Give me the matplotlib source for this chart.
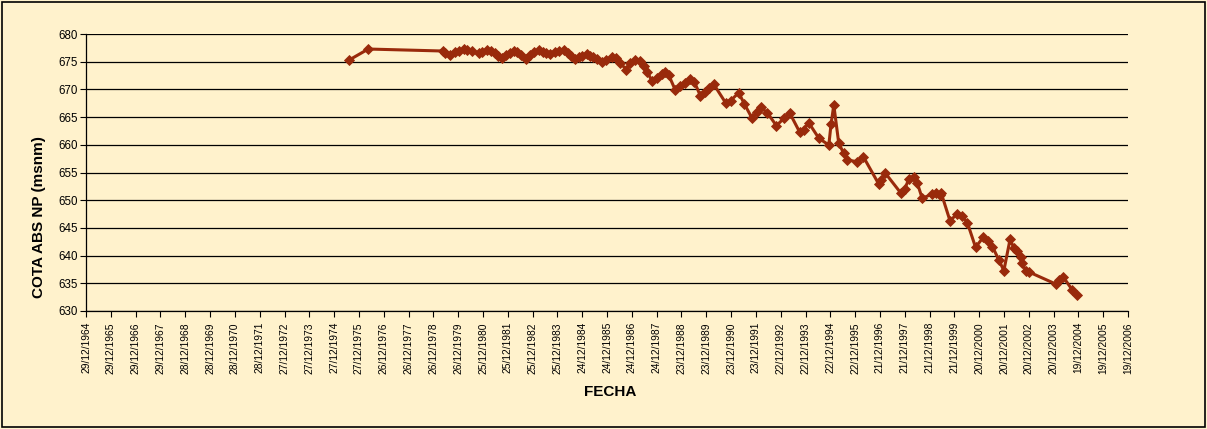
import numpy as np
import pandas as pd
import matplotlib
matplotlib.use("Agg")
import matplotlib.pyplot as plt
import matplotlib.dates as mdates

# fecha de cada medicion (anio decimal) y cota del nivel piezometrico
fecha_anio = [
    1975.59, 1976.36, 1979.38, 1979.46, 1979.66, 1979.86, 1980.02, 1980.20,
    1980.35, 1980.54, 1980.80, 1980.95, 1981.14, 1981.31, 1981.48, 1981.60,
    1981.75, 1981.92, 1982.08, 1982.21, 1982.36, 1982.52, 1982.72, 1982.89,
    1983.05, 1983.22, 1983.41, 1983.53, 1983.69, 1983.89, 1984.05, 1984.23,
    1984.42, 1984.54, 1984.70, 1984.86, 1984.98, 1985.17, 1985.30, 1985.43,
    1985.59, 1985.78, 1985.95, 1986.18, 1986.35, 1986.51, 1986.76, 1986.92,
    1987.12, 1987.32, 1987.45, 1987.59, 1987.79, 1987.99, 1988.19, 1988.33,
    1988.46, 1988.73, 1988.93, 1989.13, 1989.33, 1989.49, 1989.74, 1989.94,
    1990.07, 1990.27, 1990.75, 1990.95, 1991.28, 1991.51, 1991.82, 1992.02,
    1992.16, 1992.43, 1992.80, 1993.10, 1993.34, 1993.74, 1993.89, 1994.10,
    1994.51, 1994.91, 1995.00, 1995.11, 1995.31, 1995.51, 1995.65, 1996.05,
    1996.30, 1996.92, 1997.03, 1997.19, 1997.80, 1997.96, 1998.13, 1998.34,
    1998.47, 1998.67, 1999.08, 1999.21, 1999.38, 1999.44, 1999.79, 2000.08,
    2000.29, 2000.49, 2000.82, 2001.13, 2001.31, 2001.50, 2001.76, 2001.96,
    2002.21, 2002.37, 2002.50, 2002.64, 2002.70, 2002.84, 2002.97, 2004.05,
    2004.18, 2004.36, 2004.72, 2004.92,
]
cota = [
    675.31, 677.29, 676.93, 676.52, 676.21, 676.81, 677.02, 677.29,
    677.11, 676.93, 676.52, 676.84, 677.11, 676.93, 676.52, 676.12,
    675.72, 676.21, 676.62, 676.93, 676.75, 676.21, 675.49, 676.21,
    676.75, 677.11, 676.75, 676.57, 676.34, 676.75, 676.93, 677.11,
    676.57, 676.03, 675.49, 675.85, 676.03, 676.34, 676.12, 675.79,
    675.49, 674.95, 675.31, 675.85, 675.67, 674.71, 673.59, 674.71,
    675.31, 675.13, 674.28, 673.19, 671.52, 672.11, 672.73, 673.14,
    672.60, 669.84, 670.67, 671.10, 671.91, 671.39, 668.81, 669.58,
    670.34, 670.97, 667.60, 667.96, 669.40, 667.36, 664.78, 665.92,
    666.77, 665.79, 663.45, 664.78, 665.69, 662.26, 662.67, 663.99,
    661.17, 659.96, 663.75, 667.18, 660.27, 658.47, 657.26, 656.95,
    657.85, 652.92, 653.65, 654.86, 651.35, 651.97, 653.77, 654.24,
    653.16, 650.34, 651.12, 651.25, 650.94, 651.25, 646.30, 647.51,
    647.15, 645.94, 641.50, 643.30, 642.64, 641.61, 639.21, 637.27,
    642.94, 641.32, 640.88, 639.80, 638.72, 637.27, 637.04, 634.87,
    635.60, 636.08, 633.79, 632.89,
]

# marcas del eje de fechas cada 365 dias desde 29/12/1964
inicio = pd.Timestamp("1964-12-29")
n_marcas = 43
marcas = [inicio + pd.Timedelta(days=365 * k) for k in range(n_marcas)]
etiquetas = [m.strftime("%d/%m/%Y") for m in marcas]

fechas = [pd.Timestamp("1965-01-01") + pd.Timedelta(days=(a - 1965.0) * 365.25)
          for a in fecha_anio]

fondo = "#FFF2CC"
color_serie = "#992A0B"
letra = "Liberation Sans"

fig = plt.figure(figsize=(12.07, 4.29), dpi=100, facecolor=fondo)
ax = fig.add_axes([0.0713, 0.2751, 0.8633, 0.6456])
ax.set_facecolor(fondo)

ax.plot(mdates.date2num(fechas), cota, color=color_serie, lw=2.2,
        marker="D", markersize=4.8, markeredgewidth=0.6, zorder=3)

ax.set_ylim(630, 680)
ax.set_yticks(np.arange(630, 681, 5))
ax.set_xlim(mdates.date2num(marcas[0]), mdates.date2num(marcas[-1]))
ax.set_xticks(mdates.date2num(marcas))
ax.set_xticklabels(etiquetas, rotation=90, fontsize=7.4, family=letra)
for lab in ax.get_yticklabels():
    lab.set_fontsize(8.3)
    lab.set_family(letra)

ax.grid(axis="y", color="#000000", lw=0.9, zorder=1)
ax.tick_params(axis="both", direction="out", length=4, width=0.8, pad=2, colors="#000000")
ax.tick_params(axis="x", pad=4)
for lado in ["top", "right"]:
    ax.spines[lado].set_visible(False)
ax.spines["left"].set_linewidth(0.9)
ax.spines["bottom"].set_linewidth(0.9)

fig.text(39 / 1207, 1 - 217 / 429, "COTA ABS NP (msnm)", rotation=90,
         ha="center", va="center", fontsize=11, fontweight="bold", family=letra)
fig.text(610 / 1207, 1 - 392 / 429, "FECHA", ha="center", va="center",
         fontsize=11, fontweight="bold", family=letra)

# marco exterior
fig.patches.append(plt.Rectangle((0.002, 0.004), 0.996, 0.992, transform=fig.transFigure,
                                 fill=False, edgecolor="#000000", lw=1.2))

fig.savefig("out.png", dpi=100, facecolor=fondo)
